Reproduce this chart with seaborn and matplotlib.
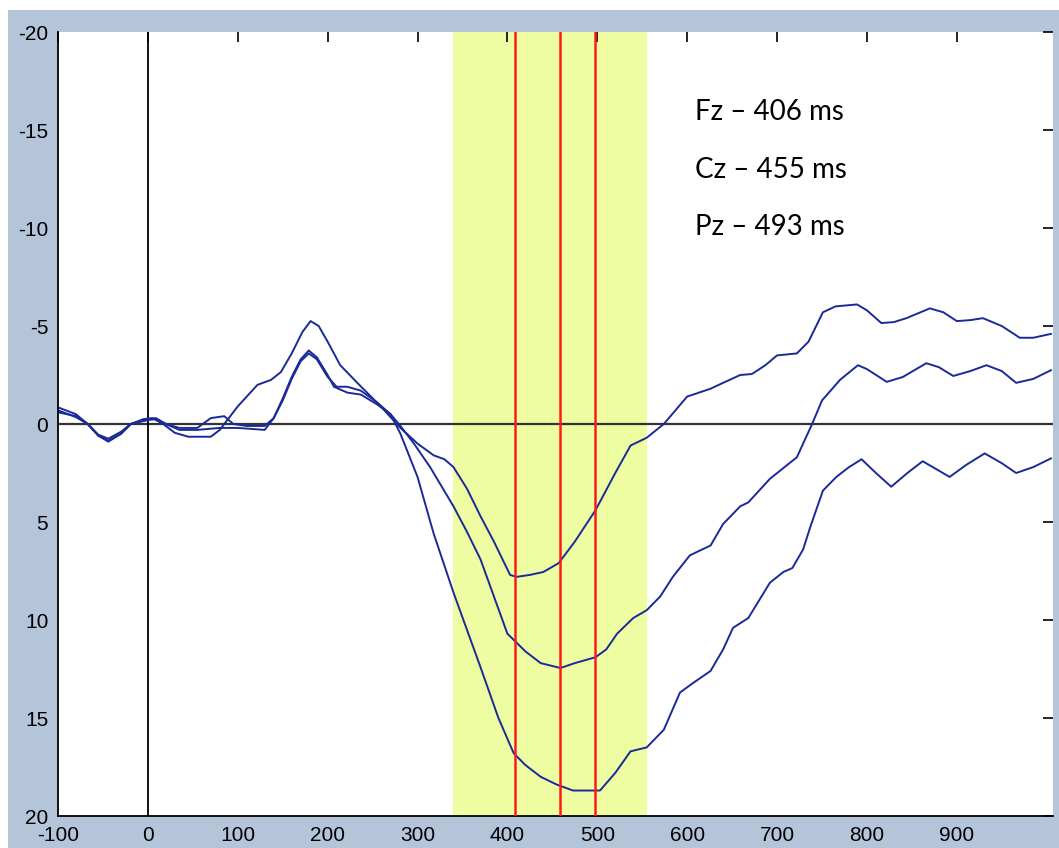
import numpy as np
import pandas as pd
import seaborn as sns
import matplotlib.pyplot as plt
from matplotlib.patches import Rectangle

# ERP traces (ms, microvolts; negative up)
fz_t = [-100, -80, -67, -55, -44, -30, -19, -5, 5, 17, 30, 45, 70, 80, 90, 100, 112, 122, 137, 148,
        160, 172, 181, 190, 200, 214, 233, 259, 281, 300, 318, 330, 340, 355, 370, 385, 403, 410, 425,
        440, 457, 475, 498, 520, 537, 555, 574, 600, 626, 640, 659, 672, 687, 700, 722, 735, 751, 765,
        789, 800, 816, 830, 844, 870, 885, 900, 915, 929, 950, 970, 985, 1005]
fz_v = [-0.6, -0.4, 0.0, 0.6, 0.85, 0.5, 0.0, -0.25, -0.3, 0.0, 0.45, 0.65, 0.65, 0.3, -0.3, -0.9,
        -1.5, -2.0, -2.25, -2.65, -3.6, -4.7, -5.25, -5.0, -4.2, -3.0, -2.1, -0.9, 0.2, 1.0, 1.6, 1.8,
        2.2, 3.3, 4.7, 6.0, 7.7, 7.8, 7.7, 7.55, 7.1, 6.0, 4.4, 2.5, 1.1, 0.7, 0.0, -1.4, -1.8, -2.1,
        -2.5, -2.55, -3.0, -3.5, -3.6, -4.2, -5.7, -6.0, -6.1, -5.8, -5.15, -5.2, -5.4, -5.9, -5.7,
        -5.25, -5.3, -5.4, -5.0, -4.4, -4.4, -4.6]

cz_t = [-100, -80, -67, -55, -44, -30, -19, 0, 9, 20, 35, 55, 70, 85, 95, 110, 130, 140, 150, 160,
        170, 179, 188, 200, 207, 222, 237, 255, 270, 281, 296, 314, 340, 355, 370, 385, 400, 420, 437,
        459, 475, 498, 510, 522, 540, 555, 570, 584, 603, 626, 640, 659, 668, 692, 711, 722, 739, 750,
        770, 790, 800, 822, 840, 866, 880, 896, 915, 933, 950, 966, 985, 1005]
cz_v = [-0.85, -0.5, 0.0, 0.55, 0.75, 0.4, 0.0, -0.25, -0.3, 0.0, 0.2, 0.2, -0.3, -0.4, 0.0, 0.1,
        0.1, -0.3, -1.3, -2.4, -3.3, -3.75, -3.4, -2.5, -1.9, -1.6, -1.5, -1.0, -0.5, 0.1, 1.0, 2.2,
        4.2, 5.5, 6.9, 8.8, 10.7, 11.6, 12.2, 12.45, 12.2, 11.9, 11.5, 10.7, 9.9, 9.5, 8.8, 7.8, 6.7,
        6.2, 5.1, 4.2, 4.0, 2.8, 2.1, 1.7, 0.0, -1.2, -2.25, -3.0, -2.8, -2.15, -2.4, -3.1, -2.9,
        -2.45, -2.7, -3.0, -2.7, -2.1, -2.3, -2.75]

pz_t = [-100, -80, -67, -55, -44, -30, -19, 0, 9, 20, 35, 55, 80, 100, 130, 140, 150, 160, 170, 179,
        188, 200, 210, 222, 237, 255, 270, 281, 300, 318, 340, 355, 370, 390, 407, 420, 437, 455, 473,
        503, 520, 537, 555, 574, 592, 607, 626, 640, 651, 668, 692, 707, 717, 729, 737, 751, 766, 780,
        794, 810, 827, 845, 862, 877, 892, 910, 931, 950, 966, 985, 1005]
pz_v = [-0.7, -0.35, 0.0, 0.6, 0.9, 0.5, 0.0, -0.2, -0.25, 0.0, 0.3, 0.3, 0.2, 0.2, 0.3, -0.3, -1.2,
        -2.3, -3.2, -3.6, -3.3, -2.4, -1.9, -1.9, -1.7, -1.1, -0.5, 0.5, 2.7, 5.6, 8.6, 10.5, 12.4,
        15.0, 16.8, 17.4, 18.0, 18.4, 18.7, 18.7, 17.8, 16.7, 16.5, 15.6, 13.7, 13.2, 12.6, 11.5, 10.4,
        9.9, 8.1, 7.55, 7.35, 6.4, 5.25, 3.4, 2.7, 2.2, 1.8, 2.5, 3.2, 2.5, 1.9, 2.3, 2.7, 2.1, 1.5,
        2.0, 2.5, 2.2, 1.75]

window = (340, 555)
peak_marks = [408, 458, 497]
labels = ['Fz \u2013 406 ms', 'Cz \u2013 455 ms', 'Pz \u2013 493 ms']

df = pd.concat([
    pd.DataFrame({'time': fz_t, 'amp': fz_v, 'channel': 'Fz'}),
    pd.DataFrame({'time': cz_t, 'amp': cz_v, 'channel': 'Cz'}),
    pd.DataFrame({'time': pz_t, 'amp': pz_v, 'channel': 'Pz'}),
], ignore_index=True)

sns.set_style('white')
plt.rcParams['font.family'] = ['Liberation Sans', 'DejaVu Sans']
plt.rcParams['axes.unicode_minus'] = False

W, H = 1059, 848
fig = plt.figure(figsize=(W / 100, H / 100), dpi=100, facecolor='white')
fig.patches.append(Rectangle((8 / W, 0), 1 - 8 / W, 1 - 10 / H, transform=fig.transFigure,
                             facecolor='#b4c4d9', edgecolor='none', zorder=-10))
ax = fig.add_axes([58 / W, 32 / H, (1053 - 58) / W, (816 - 32) / H])
ax.set_facecolor('white')

ax.axvspan(window[0], window[1], color='#eefca2', lw=0, zorder=0)
ax.axhline(0, color='#333333', lw=1.6, zorder=1)
ax.axvline(0, color='black', lw=1.3, zorder=1)
for m in peak_marks:
    ax.axvline(m, color='#ff1a1a', lw=1.8, zorder=3)

sns.lineplot(data=df, x='time', y='amp', hue='channel', palette=['#1a2a96'] * 3,
             estimator=None, sort=False, legend=False, linewidth=1.4, ax=ax, zorder=2)

ax.set_xlim(-100, 1007)
ax.set_ylim(20, -20)
ax.set_xticks(range(-100, 1000, 100))
ax.set_yticks(range(-20, 25, 5))
ax.set_xlabel('')
ax.set_ylabel('')
for s in ['top', 'right']:
    ax.spines[s].set_visible(False)
for s in ['left', 'bottom']:
    ax.spines[s].set_color('black')
    ax.spines[s].set_linewidth(1.3)
ax.tick_params(direction='in', length=7, width=1.2, top=True, right=True,
               labelsize=15, colors='black')
ax.tick_params(axis='x', pad=7)
ax.tick_params(axis='y', pad=7)

for i, lab in enumerate(labels):
    ax.text(609, -15.5 + i * 2.93, lab, fontsize=20, family=['Lato', 'DejaVu Sans'],
            va='baseline', ha='left', color='black')

fig.savefig('out.png', dpi=100, facecolor=fig.get_facecolor())
